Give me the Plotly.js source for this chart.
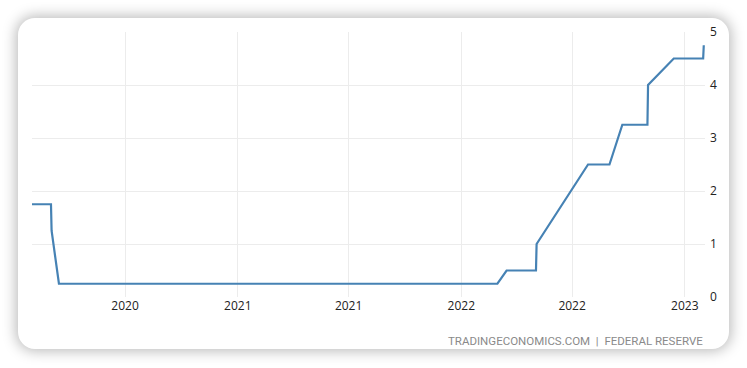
<!DOCTYPE html>
<html>
<head>
<meta charset="utf-8">
<script src="https://cdn.plot.ly/plotly-3.0.1.min.js"></script>
<style>
  html, body { margin: 0; padding: 0; background: #ffffff; width: 747px; height: 368px; overflow: hidden; }
  #card { position: absolute; left: 18px; top: 18px; width: 711px; height: 331px; background: #fff;
          border-radius: 17px; box-shadow: 0 0 14px 2px rgba(0,0,0,0.28); }
  #chart { position: absolute; left: 0; top: 0; width: 747px; height: 368px; }
</style>
</head>
<body>
<div id="card"></div>
<div id="chart"></div>
<script>
const dates = ['2020-01-31','2020-03-02','2020-03-03','2020-03-15','2022-03-01','2022-03-16',
               '2022-05-03','2022-05-04','2022-06-15','2022-07-27','2022-08-31','2022-09-21',
               '2022-11-01','2022-11-02','2022-12-14','2023-01-31','2023-02-01'];
const rates = [1.75, 1.75, 1.25, 0.25, 0.25, 0.5,
               0.5, 1.0, 1.75, 2.5, 2.5, 3.25,
               3.25, 4.0, 4.5, 4.5, 4.75];
const yTicks = [0, 1, 2, 3, 4, 5];
const sourceText = 'TRADINGECONOMICS.COM\u00a0\u00a0|\u00a0\u00a0FEDERAL RESERVE';

const trace = {
  x: dates, y: rates, type: 'scatter', mode: 'lines',
  line: { color: '#4682b4', width: 2.2 },
  hoverinfo: 'skip'
};

const layout = {
  width: 747, height: 368,
  margin: { l: 32, r: 42, t: 32, b: 71 },
  paper_bgcolor: 'rgba(0,0,0,0)',
  plot_bgcolor: 'rgba(0,0,0,0)',
  showlegend: false,
  font: { family: '"Open Sans", "Noto Sans", sans-serif', size: 12, color: '#222' },
  xaxis: {
    type: 'date',
    range: ['2020-01-31', '2023-02-03'],
    tick0: '2020-07-01', dtick: 'M6', tickformat: '%Y',
    showgrid: true, gridcolor: '#ececec', gridwidth: 1,
    zeroline: false, showline: false, ticks: '',
    tickfont: { size: 12, color: '#222' }
  },
  yaxis: {
    side: 'right', range: [0, 5],
    tickvals: yTicks, ticktext: yTicks.map(String),
    showgrid: true, gridcolor: '#ececec', gridwidth: 1,
    zeroline: false, showline: false, ticks: '',
    ticklabelstandoff: 4,
    tickfont: { size: 12, color: '#222' }
  },
  annotations: [{
    text: sourceText, xref: 'paper', yref: 'paper', x: 1, y: -0.165,
    xanchor: 'right', yanchor: 'middle', showarrow: false,
    font: { family: 'Roboto, "Open Sans", sans-serif', size: 11.5, color: '#8a8a8a' }
  }]
};

Plotly.newPlot('chart', [trace], layout, { displayModeBar: false, staticPlot: true });
</script>
</body>
</html>
